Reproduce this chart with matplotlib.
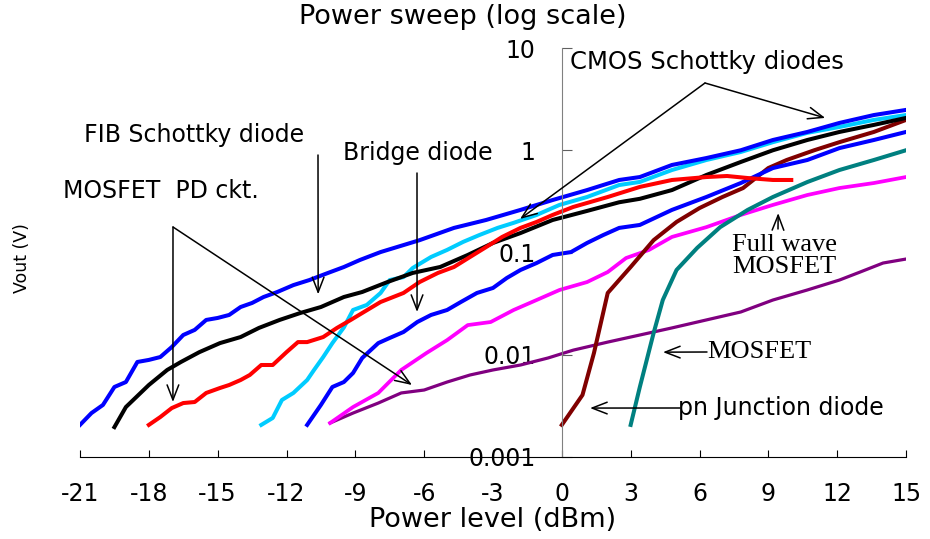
import matplotlib
matplotlib.use("Agg")
import matplotlib.pyplot as plt

plt.rcParams['font.family'] = ['DejaVu Sans']

# ---- data (x in dBm, y in V) ----
cmos1_x = [-21, -20.5, -20, -19.5, -19, -18.5, -18, -17.5, -17, -16.5, -16, -15.5, -15, -14.5,
           -14, -13.5, -13, -12.4, -11.7, -11, -10.2, -9.5, -8.8, -7.9, -6.2, -4.7, -3.3, -1.8,
           -0.4, 1.1, 2.5, 3.4, 4.8, 6.3, 7.8, 9.2, 10.7, 12.1, 13.6, 15]
cmos1_y = [0.00206, 0.00269, 0.00323, 0.00484, 0.00541, 0.0085, 0.0089, 0.0095, 0.0119, 0.0156,
           0.0175, 0.0219, 0.0229, 0.0245, 0.0293, 0.0321, 0.0367, 0.0411, 0.048, 0.0538, 0.063,
           0.0721, 0.0845, 0.101, 0.132, 0.174, 0.208, 0.261, 0.326, 0.408, 0.512, 0.547, 0.718,
           0.839, 1.0, 1.26, 1.51, 1.85, 2.21, 2.48]

fib_x = [-19.5, -19, -18, -17.2, -16.6, -15.8, -14.9, -14, -13.2, -12.3, -11.4, -10.5, -9.5,
         -8.7, -7.6, -6.5, -5.3, -4.1, -3, -1.8, -0.4, 1.1, 2.5, 3.4, 4.8, 6.3, 7.8, 9.2, 10.7,
         12.1, 13.6, 15]
fib_y = [0.00196, 0.00308, 0.00506, 0.0071, 0.0085, 0.0106, 0.013, 0.0149, 0.0183, 0.0219,
         0.0256, 0.0293, 0.0367, 0.0411, 0.0514, 0.0631, 0.0722, 0.0946, 0.124, 0.155, 0.208,
         0.255, 0.31, 0.335, 0.408, 0.573, 0.768, 1.0, 1.26, 1.51, 1.77, 2.07]

pd_x = [-18, -17.5, -17, -16.5, -16, -15.5, -14.9, -14.5, -14, -13.6, -13.1, -12.6, -12, -11.5,
        -11.1, -10.4, -9.8, -9.2, -8.7, -7.9, -6.9, -6.2, -5.4, -4.7, -4, -3.3, -2.6, -1.8,
        -1.1, -0.4, 0.5, 2, 3.4, 4.8, 6.3, 7.2, 8.1, 9.2, 10]
pd_y = [0.00206, 0.00246, 0.00301, 0.00337, 0.00345, 0.00423, 0.00473, 0.00506, 0.00566,
        0.00634, 0.00794, 0.00794, 0.0106, 0.0133, 0.0133, 0.0149, 0.0183, 0.0219, 0.0256,
        0.0328, 0.0402, 0.0514, 0.0631, 0.0722, 0.0904, 0.113, 0.142, 0.174, 0.199, 0.233,
        0.279, 0.349, 0.438, 0.512, 0.547, 0.56, 0.535, 0.512, 0.512]

cmos2_x = [-13.1, -12.6, -12.2, -11.7, -11.1, -10.8, -10.4, -10, -9.5, -9.1, -8.5, -7.9, -7.5,
           -6.9, -6.5, -5.7, -5, -4.3, -3.6, -2.8, -2.1, -1.1, -0.1, 1.1, 2.5, 3.4, 4.8, 6.3,
           7.8, 9.2, 10.7, 12.1, 13.6, 15]
cmos2_y = [0.00206, 0.00241, 0.00361, 0.00423, 0.00566, 0.0071, 0.0095, 0.013, 0.0185, 0.0274,
           0.0307, 0.0402, 0.0538, 0.0575, 0.0705, 0.0904, 0.106, 0.127, 0.148, 0.174, 0.195,
           0.233, 0.292, 0.349, 0.457, 0.49, 0.641, 0.803, 0.962, 1.2, 1.48, 1.69, 1.98, 2.21]

bridge_x = [-11.1, -10.5, -10, -9.5, -9.1, -8.7, -8, -7.5, -6.9, -6.3, -5.7, -5, -4.4, -3.7, -3,
            -2.4, -1.8, -1.1, -0.4, 0.4, 1.1, 1.8, 2.5, 3.4, 4.8, 6.3, 7.8, 9.2, 10.7, 12.1,
            13.6, 15]
bridge_y = [0.00206, 0.00323, 0.00484, 0.00541, 0.00663, 0.0093, 0.013, 0.0146, 0.0167, 0.0209,
            0.0245, 0.0274, 0.0328, 0.0402, 0.045, 0.0563, 0.0675, 0.0789, 0.0946, 0.101,
            0.124, 0.148, 0.174, 0.186, 0.261, 0.349, 0.478, 0.67, 0.803, 1.05, 1.26, 1.51]

fullwave_x = [-10.1, -9.1, -8, -7, -5.9, -5, -4.1, -3.1, -2.1, -1.1, -0.1, 1.1, 2, 2.8, 3.8,
              4.8, 6.3, 7.8, 9.2, 10.7, 12.1, 13.6, 15]
fullwave_y = [0.00215, 0.00308, 0.00423, 0.0071, 0.0104, 0.0139, 0.0195, 0.0209, 0.0274, 0.0343,
              0.043, 0.0514, 0.0644, 0.0883, 0.106, 0.142, 0.177, 0.233, 0.292, 0.365, 0.427,
              0.478, 0.547]

mosfet_x = [-10.1, -9.1, -8, -7, -6, -5, -4, -3, -1.8, -0.6, 0.5, 2, 3.4, 4.8, 6.3, 7.8, 9.2,
            10.7, 12.1, 13, 14, 15]
mosfet_y = [0.00215, 0.00269, 0.00337, 0.00423, 0.00452, 0.00541, 0.00634, 0.0071, 0.00794,
            0.0093, 0.0111, 0.0133, 0.0156, 0.0183, 0.0219, 0.0262, 0.0343, 0.043, 0.0538,
            0.0644, 0.0789, 0.0863]

pn_x = [0, 0.9, 1.4, 2, 3, 4, 5, 6, 7, 7.9, 9, 9.8, 11, 12.1, 13.6, 15]
pn_y = [0.00206, 0.00404, 0.0104, 0.0402, 0.0722, 0.132, 0.199, 0.272, 0.349, 0.427, 0.67,
        0.803, 1.0, 1.2, 1.51, 1.98]

mos2_x = [3, 3.4, 4, 4.4, 5, 5.9, 6.9, 8.1, 9.2, 10.7, 12.1, 13.6, 15]
mos2_y = [0.00206, 0.00484, 0.0163, 0.0343, 0.0675, 0.111, 0.177, 0.261, 0.349, 0.489, 0.641,
          0.803, 1.0]

yticks = [0.001, 0.01, 0.1, 1, 10]
ylabels = ['0.001', '0.01', '0.1', '1', '10']
xticks = list(range(-21, 16, 3))

W, H = 930, 539
fig = plt.figure(figsize=(W / 100, H / 100), dpi=100)
ax = fig.add_axes([80 / W, (H - 457) / H, 826 / W, 409 / H])


def fp(x, y):
    # figure pixel (from top-left) -> figure fraction
    return (x / W, 1 - y / H)


ax.plot(mosfet_x, mosfet_y, color='#800080', lw=2.3)
ax.plot(fullwave_x, fullwave_y, color='#ff00ff', lw=2.7)
ax.plot(pn_x, pn_y, color='#800000', lw=2.9)
ax.plot(mos2_x, mos2_y, color='#008080', lw=2.9)
ax.plot(bridge_x, bridge_y, color='#0000ff', lw=2.9)
ax.plot(cmos2_x, cmos2_y, color='#00ccff', lw=2.9)
ax.plot(fib_x, fib_y, color='black', lw=2.9)
ax.plot(pd_x, pd_y, color='#ff0000', lw=2.9)
ax.plot(cmos1_x, cmos1_y, color='#0000ff', lw=2.9)

ax.set_yscale('log')
ax.set_xlim(-21, 15)
ax.set_ylim(0.001, 10)
ax.minorticks_off()
ax.set_yticks(yticks, ylabels)
ax.set_xticks(xticks, [str(v) for v in xticks])

for s in ['top', 'right']:
    ax.spines[s].set_visible(False)
ax.spines['left'].set_position(('data', 0))
ax.spines['left'].set_color('#808080')
ax.spines['bottom'].set_color('black')
ax.tick_params(axis='y', direction='in', length=7, pad=19, labelsize=17, color='#606060')
ax.tick_params(axis='x', direction='in', length=5, pad=18, labelsize=17, color='black')

fig.text(*fp(463, 17), 'Power sweep (log scale)', ha='center', va='center', fontsize=19.5)
fig.text(*fp(493, 520), 'Power level (dBm)', ha='center', va='center', fontsize=19.5)
fig.text(*fp(22, 258), 'Vout (V)', ha='center', va='center', fontsize=12.5, rotation=90)

serif = ['Liberation Serif', 'DejaVu Serif']
fig.text(*fp(570, 62), 'CMOS Schottky diodes', ha='left', va='center', fontsize=17.5)
fig.text(*fp(84, 135), 'FIB Schottky diode', ha='left', va='center', fontsize=17)
fig.text(*fp(63, 191), 'MOSFET  PD ckt.', ha='left', va='center', fontsize=17)
fig.text(*fp(343, 153), 'Bridge diode', ha='left', va='center', fontsize=17)
fig.text(*fp(732, 256), 'Full wave\nMOSFET', ha='left', va='center', fontsize=19,
         family=serif, linespacing=1.0)
fig.text(*fp(707, 352), 'MOSFET', ha='left', va='center', fontsize=19, family=serif)
fig.text(*fp(678, 408), 'pn Junction diode', ha='left', va='center', fontsize=17)

arrows = [
    ((705, 83), (-1.82, 0.213)),
    ((705, 83), (11.48, 2.07)),
    ((318, 155), (-10.62, 0.039)),
    ((173, 227), (-16.95, 0.00345)),
    ((173, 227), (-6.53, 0.00506)),
    ((417, 173), (-6.31, 0.0262)),
    ((778, 229), (9.43, 0.243)),
    ((707, 352), (4.41, 0.0106)),
    ((680, 408), (1.23, 0.00301)),
]
for start, tip in arrows:
    ax.annotate('', xy=tip, xycoords='data', xytext=fp(*start), textcoords='figure fraction',
                arrowprops=dict(arrowstyle='->,head_length=0.9,head_width=0.35', lw=1.1,
                                color='black', shrinkA=0, shrinkB=0, mutation_scale=12))

fig.savefig('out.png', dpi=100)
